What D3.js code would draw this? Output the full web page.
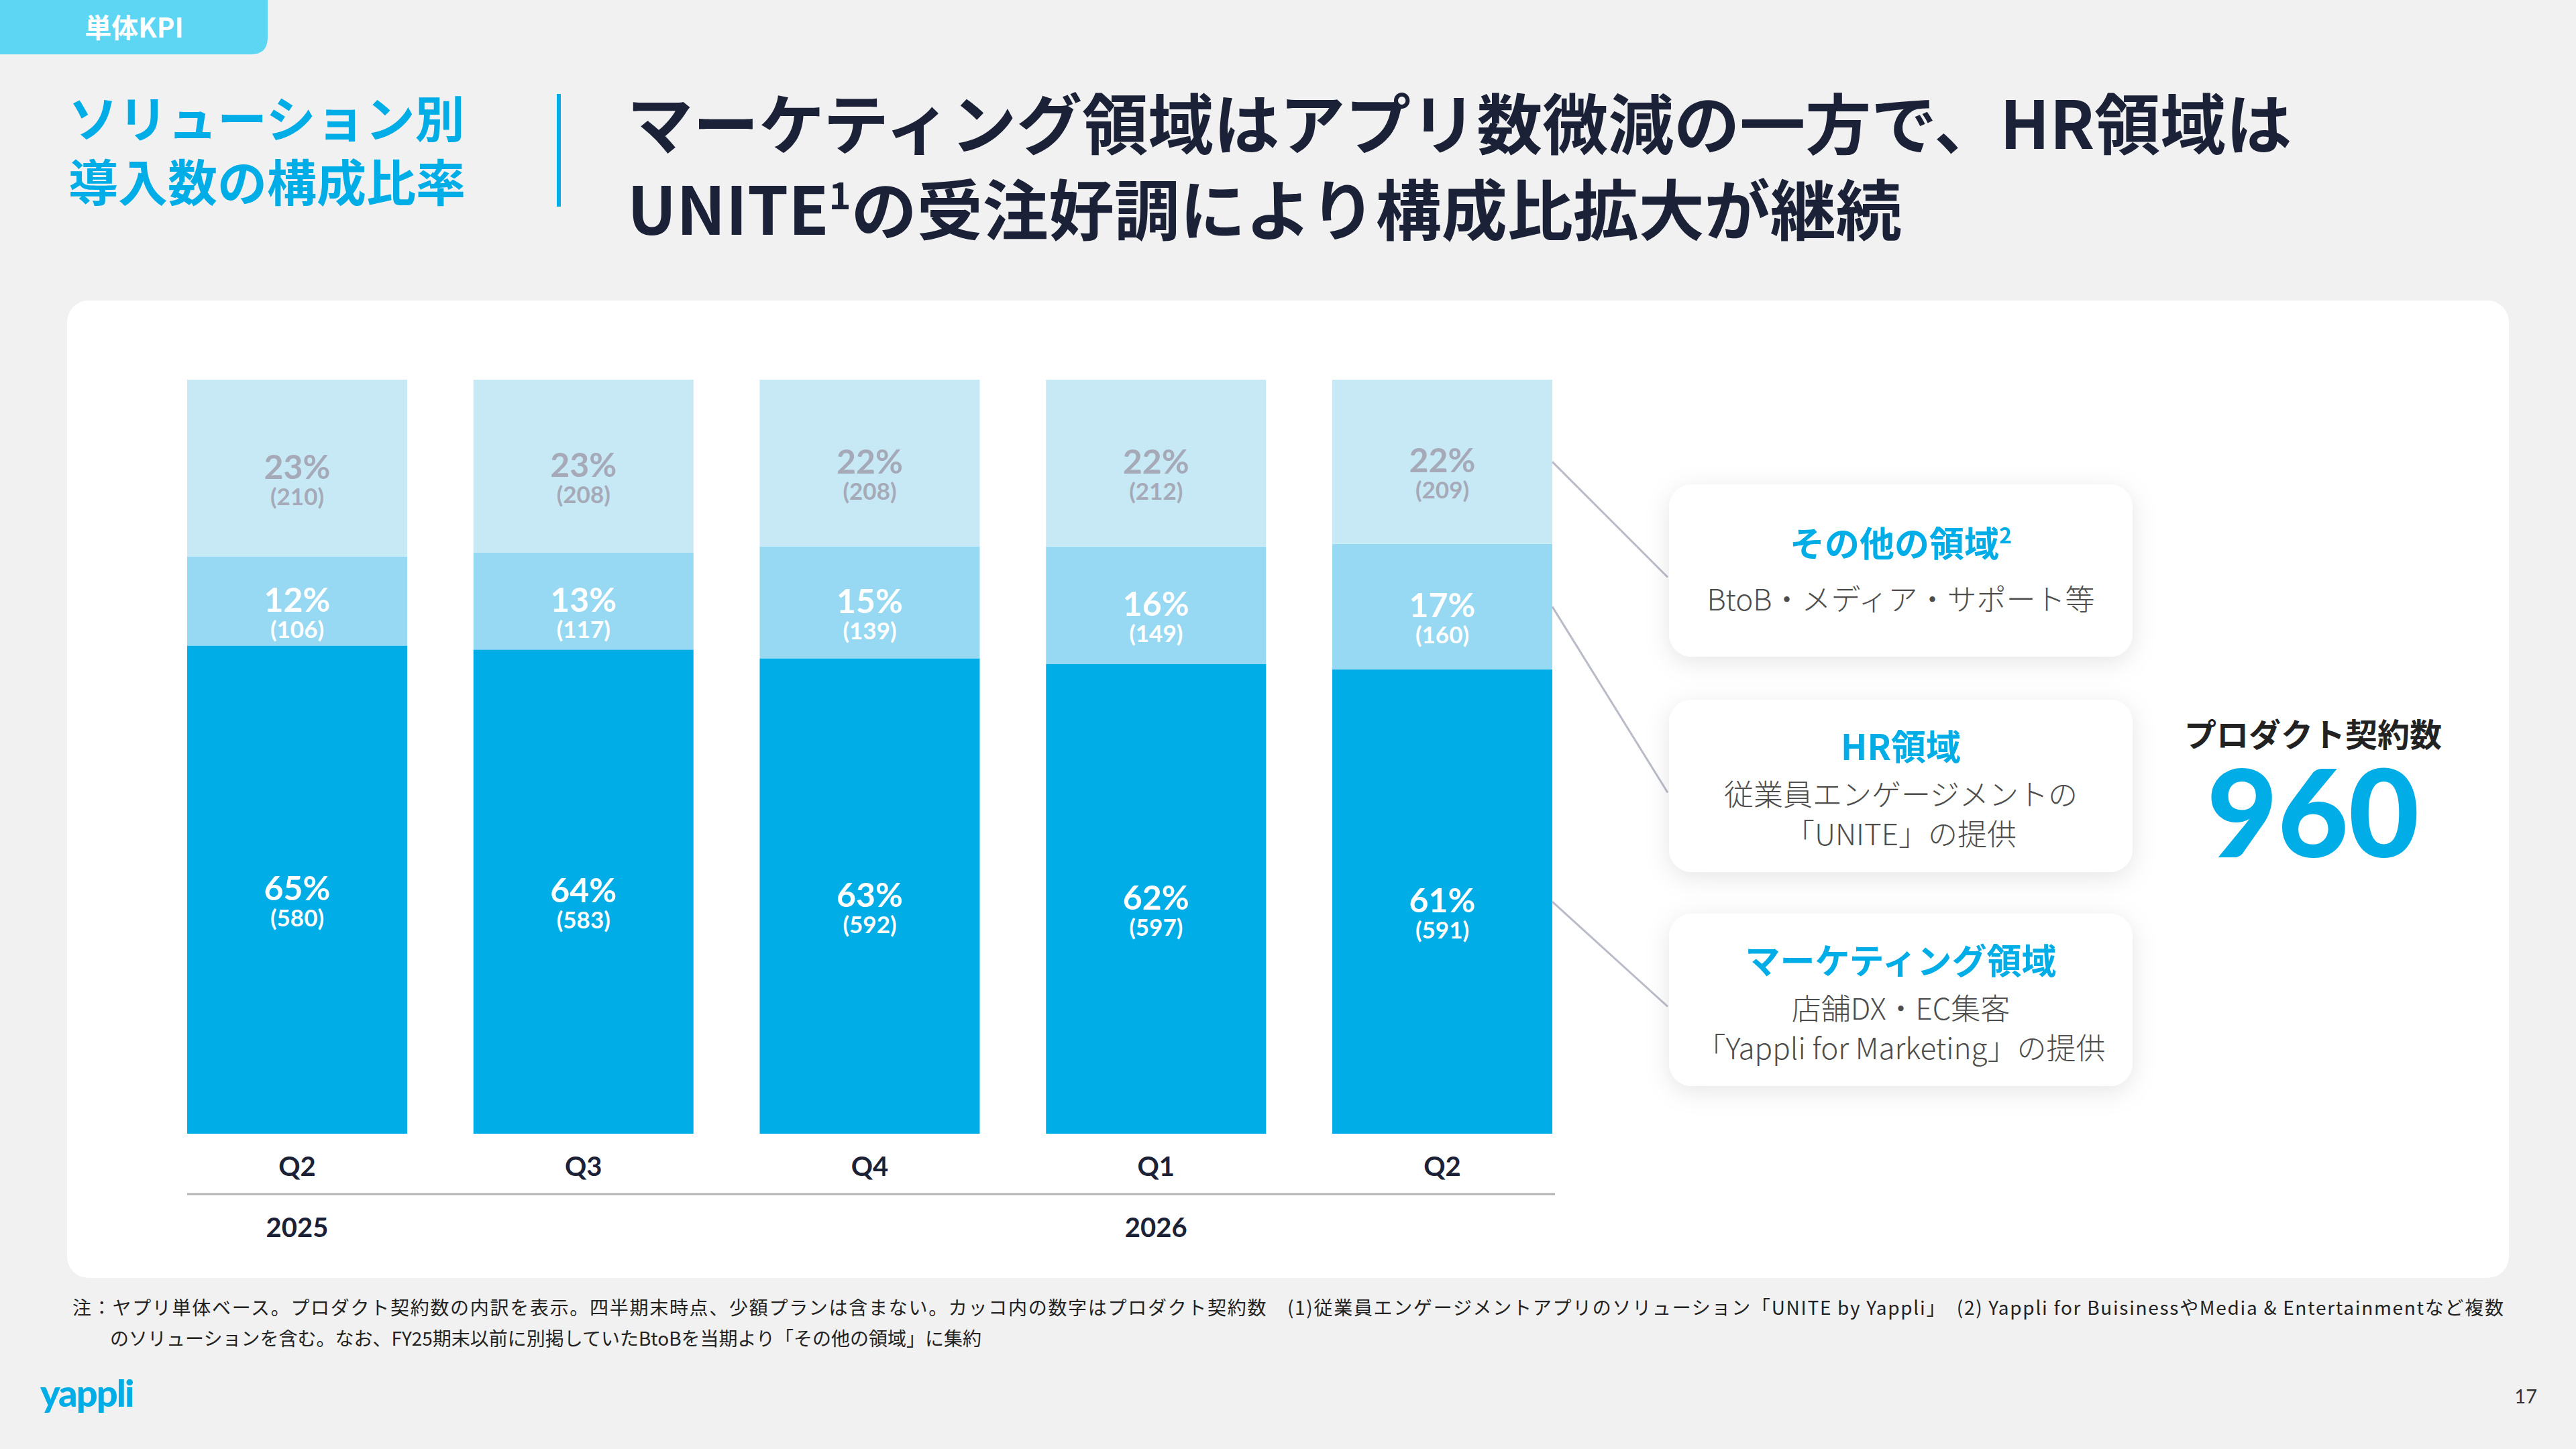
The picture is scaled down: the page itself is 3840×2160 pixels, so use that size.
<!DOCTYPE html>
<html>
<head>
<meta charset="utf-8">
<script src="https://cdn.jsdelivr.net/npm/d3@7"></script>
<style>
  body { margin: 0; background: #f1f1f1; }
  svg { display: block; }
</style>
</head>
<body>
<svg id="chart" width="3840" height="2160"></svg>
<script>
// data
var quarters = ['Q2', 'Q3', 'Q4', 'Q1', 'Q2'];
var periodIds = ['2025Q2', '2025Q3', '2025Q4', '2026Q1', '2026Q2'];
var yearLabels = [{ year: '2025', at: '2025Q2' }, { year: '2026', at: '2026Q1' }];

var marketing = [580, 583, 592, 597, 591];
var hr = [106, 117, 139, 149, 160];
var other = [210, 208, 208, 212, 209];

var marketingPct = [65, 64, 63, 62, 61];
var hrPct = [12, 13, 15, 16, 17];
var otherPct = [23, 23, 22, 22, 22];

var seriesKeys = ['marketing', 'hr', 'other'];
var seriesColors = { marketing: '#00ade6', hr: '#97d9f2', other: '#c6e9f5' };
var labelColors = { marketing: '#ffffff', hr: '#ffffff', other: '#a6a9b7' };

var cards = [
    { key: 'other', title: 'その他の領域', sup: '2', lines: ['BtoB・メディア・サポート等'] },
    { key: 'hr', title: 'HR領域', sup: '', lines: ['従業員エンゲージメントの', '「UNITE」の提供'] },
    { key: 'marketing', title: 'マーケティング領域', sup: '', lines: ['店舗DX・EC集客', '「Yappli for Marketing」の提供'] }
];

var totalLabel = 'プロダクト契約数';
var totalValue = 960;

var JP = "'Noto Sans CJK JP', 'Noto Sans', sans-serif";
var NUM = "Lato, 'Noto Sans CJK JP', sans-serif";
var BLUE = '#00ade6';
var NAVY = '#1b2136';

var rows = periodIds.map(function(id, i) {
    return {
        id: id, quarter: quarters[i],
        marketing: marketing[i], hr: hr[i], other: other[i],
        pct: { marketing: marketingPct[i], hr: hrPct[i], other: otherPct[i] }
    };
});

var svg = d3.select('#chart');

var defs = svg.append('defs');
var shadow = defs.append('filter').attr('id', 'cardShadow')
    .attr('x', '-20%').attr('y', '-30%').attr('width', '140%').attr('height', '160%');
shadow.append('feDropShadow')
    .attr('dx', 0).attr('dy', 8).attr('stdDeviation', 18)
    .attr('flood-color', '#000').attr('flood-opacity', 0.10);

// header tag
svg.append('path')
    .attr('d', 'M0,0 H399 V56 Q399,81 374,81 H0 Z')
    .attr('fill', '#5dd6f4');
svg.append('text')
    .attr('x', 200).attr('y', 56)
    .attr('text-anchor', 'middle')
    .style('font-family', JP).style('font-size', '40px').style('font-weight', 700)
    .attr('fill', '#ffffff')
    .text('単体KPI');

// left subtitle
var sub = svg.append('text')
    .style('font-family', JP).style('font-size', '74px').style('font-weight', 700)
    .attr('fill', BLUE);
sub.append('tspan').attr('x', 102).attr('y', 205).text('ソリューション別');
sub.append('tspan').attr('x', 102).attr('y', 300).text('導入数の構成比率');

svg.append('line')
    .attr('x1', 833).attr('x2', 833).attr('y1', 140).attr('y2', 308)
    .attr('stroke', BLUE).attr('stroke-width', 6);

// main title
var title = svg.append('text')
    .style('font-family', JP).style('font-size', '98px').style('font-weight', 700)
    .attr('fill', NAVY);
title.append('tspan').attr('x', 935).attr('y', 222).text('マーケティング領域はアプリ数微減の一方で、HR領域は');
var t2 = title.append('tspan').attr('x', 935).attr('y', 350);
t2.append('tspan').text('UNITE');
t2.append('tspan').style('font-size', '56px').attr('dy', -38).text('1');
t2.append('tspan').attr('dy', 38).text('の受注好調により構成比拡大が継続');

// white card
svg.append('rect')
    .attr('x', 100).attr('y', 448).attr('width', 3640).attr('height', 1457)
    .attr('rx', 32).attr('ry', 32)
    .attr('fill', '#ffffff');

// scales
var x = d3.scaleBand()
    .domain(periodIds)
    .range([279, 2314])
    .paddingInner(0.2314)
    .paddingOuter(0);

var y = d3.scaleLinear()
    .domain([0, 1])
    .range([1690, 566]);

var stack = d3.stack()
    .keys(seriesKeys)
    .offset(d3.stackOffsetExpand);
var stacked = stack(rows);

var layers = svg.append('g').selectAll('g.layer')
    .data(stacked)
    .enter().append('g')
    .attr('class', 'layer')
    .attr('fill', function(d) { return seriesColors[d.key]; });

layers.selectAll('rect')
    .data(function(d) { return d; })
    .enter().append('rect')
    .attr('x', function(d) { return x(d.data.id); })
    .attr('y', function(d) { return y(d[1]); })
    .attr('width', x.bandwidth())
    .attr('height', function(d) { return y(d[0]) - y(d[1]); });

// segment labels
layers.each(function(layer) {
    var g = d3.select(this);
    var key = layer.key;
    var lab = g.selectAll('g.lab')
        .data(layer)
        .enter().append('g')
        .attr('class', 'lab')
        .attr('transform', function(d) {
            var cy = (y(d[0]) + y(d[1])) / 2;
            return 'translate(' + (x(d.data.id) + x.bandwidth() / 2) + ',' + cy + ')';
        });
    lab.append('text')
        .attr('text-anchor', 'middle')
        .attr('y', 16)
        .style('font-family', NUM).style('font-size', '50px').style('font-weight', 700)
        .attr('fill', labelColors[key])
        .text(function(d) { return d.data.pct[key] + '%'; });
    lab.append('text')
        .attr('text-anchor', 'middle')
        .attr('y', 55)
        .style('font-family', NUM).style('font-size', '35px').style('font-weight', 700)
        .attr('fill', labelColors[key])
        .text(function(d) { return '(' + d.data[key] + ')'; });
});

// x axis: quarter labels
var xAxis = d3.axisBottom(x)
    .tickSize(0)
    .tickPadding(0)
    .tickFormat(function(id) { return quarters[periodIds.indexOf(id)]; });

var axisG = svg.append('g')
    .attr('transform', 'translate(0,1725)')
    .call(xAxis);
axisG.select('.domain').remove();
axisG.selectAll('text')
    .attr('dy', '0.71em')
    .style('font-family', NUM).style('font-size', '40px').style('font-weight', 700)
    .attr('fill', NAVY);

svg.append('line')
    .attr('x1', x.range()[0]).attr('x2', x.range()[1] + 4)
    .attr('y1', 1780).attr('y2', 1780)
    .attr('stroke', '#b3b3b3').attr('stroke-width', 3);

svg.append('g').selectAll('text')
    .data(yearLabels)
    .enter().append('text')
    .attr('x', function(d) { return x(d.at) + x.bandwidth() / 2; })
    .attr('y', 1844)
    .attr('text-anchor', 'middle')
    .style('font-family', NUM).style('font-size', '40px').style('font-weight', 700)
    .attr('fill', NAVY)
    .text(function(d) { return d.year; });

// callout cards
var cardX = 2488, cardW = 691, cardH = 257;
var cardTops = { other: 722, hr: 1043, marketing: 1362 };
var lastRow = stacked.map(function(layer) { return { key: layer.key, seg: layer[layer.length - 1] }; });

svg.append('g').selectAll('line')
    .data(lastRow)
    .enter().append('line')
    .attr('x1', x(periodIds[periodIds.length - 1]) + x.bandwidth())
    .attr('y1', function(d) { return (y(d.seg[0]) + y(d.seg[1])) / 2; })
    .attr('x2', cardX - 2)
    .attr('y2', function(d) { return cardTops[d.key] + cardH / 2 + 10; })
    .attr('stroke', '#b9bcc8').attr('stroke-width', 3);

var cardG = svg.append('g').selectAll('g.card')
    .data(cards)
    .enter().append('g')
    .attr('class', 'card')
    .attr('transform', function(d) { return 'translate(' + cardX + ',' + cardTops[d.key] + ')'; });

cardG.append('rect')
    .attr('width', cardW).attr('height', cardH)
    .attr('rx', 34).attr('ry', 34)
    .attr('fill', '#ffffff')
    .attr('filter', 'url(#cardShadow)');

cardG.each(function(d) {
    var g = d3.select(this);
    var n = d.lines.length;
    var titleY = n === 1 ? 108 : 90;
    var tt = g.append('text')
        .attr('x', cardW / 2).attr('y', titleY)
        .attr('text-anchor', 'middle')
        .style('font-family', JP).style('font-size', '52px').style('font-weight', 700)
        .attr('fill', BLUE);
    tt.append('tspan').text(d.title);
    if (d.sup) {
        tt.append('tspan').style('font-size', '32px').attr('dy', -20).text(d.sup);
    }
    g.selectAll('text.sub')
        .data(d.lines)
        .enter().append('text')
        .attr('class', 'sub')
        .attr('x', cardW / 2)
        .attr('y', function(line, i) { return (n === 1 ? 188 : 158) + i * 59; })
        .attr('text-anchor', 'middle')
        .style('font-family', JP).style('font-size', '44px').style('font-weight', 300)
        .attr('fill', '#4d4d4d')
        .text(function(line) { return line; });
});

// total
svg.append('text')
    .attr('x', 3448).attr('y', 1113)
    .attr('text-anchor', 'middle')
    .style('font-family', JP).style('font-size', '48px').style('font-weight', 700)
    .attr('fill', '#222222')
    .text(totalLabel);
svg.append('text')
    .attr('x', 3448).attr('y', 1278)
    .attr('text-anchor', 'middle')
    .style('font-family', NUM).style('font-size', '182px').style('font-weight', 900)
    .attr('fill', BLUE)
    .text(totalValue);

// footnote
svg.append('text')
    .attr('x', 108).attr('y', 1960)
    .attr('textLength', 3624).attr('lengthAdjust', 'spacing')
    .style('font-family', JP).style('font-size', '28px')
    .attr('fill', '#222222')
    .text('注：ヤプリ単体ベース。プロダクト契約数の内訳を表示。四半期末時点、少額プランは含まない。カッコ内の数字はプロダクト契約数　(1)従業員エンゲージメントアプリのソリューション「UNITE by Yappli」　(2) Yappli for BuisinessやMedia & Entertainmentなど複数');
svg.append('text')
    .attr('x', 164).attr('y', 2006)
    .style('font-family', JP).style('font-size', '28px')
    .attr('fill', '#222222')
    .text('のソリューションを含む。なお、FY25期末以前に別掲していたBtoBを当期より「その他の領域」に集約');

// logo + page number
svg.append('text')
    .attr('x', 60).attr('y', 2097)
    .style('font-family', NUM).style('font-size', '56px').style('font-weight', 900)
    .style('letter-spacing', '-2px')
    .attr('fill', BLUE)
    .text('yappli');
svg.append('text')
    .attr('x', 3782).attr('y', 2092)
    .attr('text-anchor', 'end')
    .style('font-family', NUM).style('font-size', '29px')
    .attr('fill', '#333333')
    .text('17');
</script>
</body>
</html>
